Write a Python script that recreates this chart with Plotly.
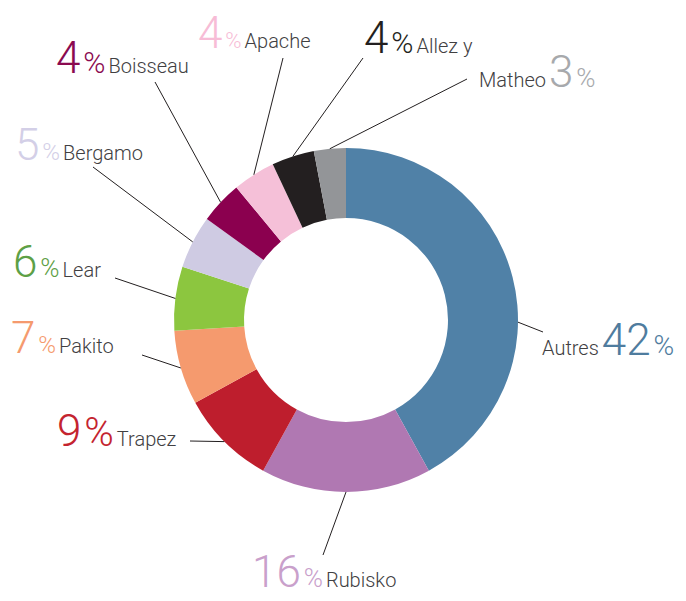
import math
import plotly.graph_objects as go

# data
labels = ["Autres", "Rubisko", "Trapez", "Pakito", "Lear", "Bergamo",
          "Boisseau", "Apache", "Allez y", "Matheo"]
shares = [42, 16, 9, 7, 6, 5, 4, 4, 4, 3]
slice_colors = ["#5081A7", "#B078B2", "#BE1E2D", "#F59A6E", "#8CC63F",
                "#CFCBE3", "#8B004F", "#F5C0D8", "#231F20", "#939598"]
pct_colors = ["#4F7C9E", "#C9A0CB", "#C4242F", "#F59A6E", "#5DA046",
              "#D3CFE7", "#8B0A50", "#F7BCD6", "#231F20", "#A7A9AC"]

W, H = 686, 601
CX, CY, R = 346, 320, 172      # pie centre / radius in px
HOLE = 0.593

# label layout: (left x, centre y, leader end x, leader end y, % size, name first,
#                where along the slice the leader starts)
label_pos = {
    "Autres":   (540, 340, 543, 332, 28, True, 0.6),
    "Rubisko":  (250, 572, 323, 555, 26, False, 0.5),
    "Trapez":   (55, 431, 190, 441, 40, False, 0.5),
    "Pakito":   (9, 338, 142, 355, 24, False, 0.5),
    "Lear":     (11, 262, 115, 278, 26, False, 0.5),
    "Bergamo":  (13, 145, 93, 167, 24, False, 0.5),
    "Boisseau": (54, 58, 155, 82, 30, False, 0.5),
    "Apache":   (196, 33, 283, 58, 22, False, 0.5),
    "Allez y":  (362, 38, 363, 58, 30, False, 0.5),
    "Matheo":   (477, 72, 467, 79, 26, True, 0.5),
}

fig = go.Figure(go.Pie(
    labels=labels,
    values=shares,
    sort=False,
    direction="clockwise",
    rotation=0,
    hole=HOLE,
    textinfo="none",
    marker=dict(colors=slice_colors, line=dict(width=0)),
    domain=dict(x=[(CX - R) / W, (CX + R) / W],
                y=[1 - (CY + R) / H, 1 - (CY - R) / H]),
    showlegend=False,
))

def px2paper(x, y):
    return x / W, 1 - y / H

total = sum(shares)
cum = 0
shapes, annotations = [], []
for lab, val, col in zip(labels, shares, pct_colors):
    tx, ty, ex, ey, psize, name_first, frac = label_pos[lab]
    ang = (cum + val * frac) / total * 2 * math.pi
    cum += val
    sx = CX + R * math.sin(ang)
    sy = CY - R * math.cos(ang)
    x0, y0 = px2paper(sx, sy)
    x1, y1 = px2paper(ex, ey)
    shapes.append(dict(type="line", xref="paper", yref="paper",
                       x0=x0, y0=y0, x1=x1, y1=y1,
                       line=dict(color="#231F20", width=1)))

    num = (f'<span style="font-size:44px;color:{col}">{val}</span>'
           f' <span style="font-size:{psize}px;color:{col}">%</span>')
    name = f'<span style="font-size:20px;color:#414042">{lab}</span>'
    text = f"{name} {num}" if name_first else f"{num} {name}"
    ax, ay = px2paper(tx, ty)
    annotations.append(dict(x=ax, y=ay, xref="paper", yref="paper",
                            xanchor="left", yanchor="middle",
                            text=text, showarrow=False))

fig.update_layout(
    width=W, height=H,
    margin=dict(l=0, r=0, t=0, b=0),
    paper_bgcolor="white",
    plot_bgcolor="white",
    font=dict(family="Roboto, sans-serif", weight=300),
    shapes=shapes,
    annotations=annotations,
)

fig.write_html("out.html", config={"displayModeBar": False},
               post_script="document.body.style.margin='0';")
